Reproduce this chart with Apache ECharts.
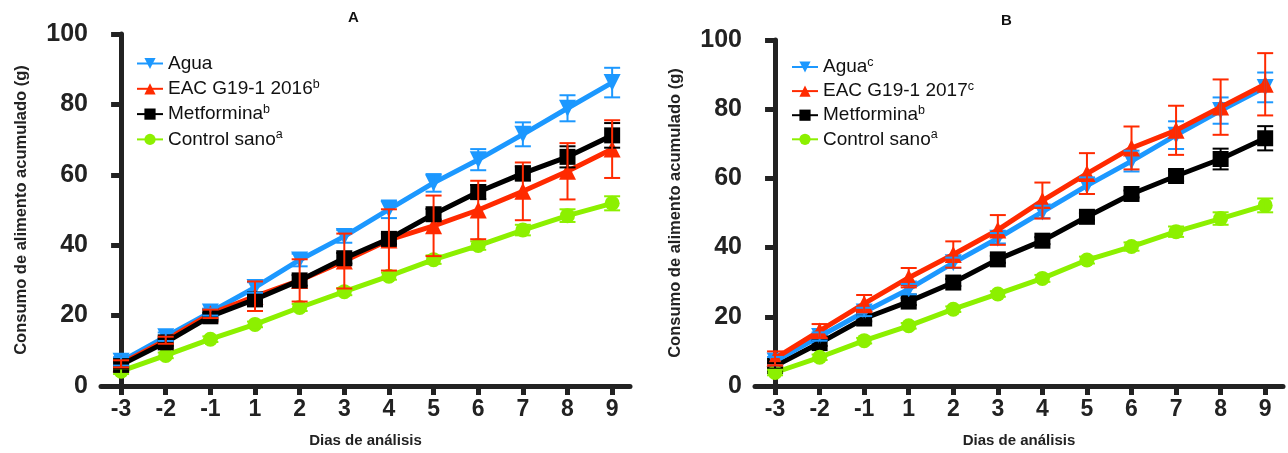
<!DOCTYPE html>
<html><head><meta charset="utf-8">
<script src="https://cdn.jsdelivr.net/npm/echarts@6/dist/echarts.min.js"></script>
<style>html,body{margin:0;padding:0;background:#fff}#c{width:1288px;height:453px}</style>
</head><body><div id="c"></div>
<script>
const days = ['-3','-2','-1','1','2','3','4','5','6','7','8','9'];
const yTicks = [0,20,40,60,80,100];

// Panel A
const aguaA    = [7, 14, 21, 28, 35.8, 42.5, 50.2, 57.7, 64.3, 71.5, 78.9, 86.2];
const aguaAErr = [1.2, 1.2, 1, 1.5, 1.8, 1.8, 2.5, 2.5, 3, 3.4, 3.7, 4.2];
const eacA     = [6.3, 13, 20.5, 25.5, 30, 35.5, 41.5, 45.5, 50, 55.3, 61, 67.3];
const eacAErr  = [1, 1, 1.2, 4.2, 6, 7.8, 8.7, 8.6, 8.3, 8.2, 8, 8.2];
const metA     = [6, 12.4, 19.8, 24.6, 30, 36.3, 41.8, 48.8, 55.1, 60.4, 65.1, 71.2];
const metAErr  = [1, 1, 1, 1.2, 1.5, 1.5, 1.5, 1.5, 2, 2, 3, 3.5];
const ctlA     = [4.2, 8.7, 13.3, 17.5, 22.3, 26.8, 31.2, 35.9, 39.9, 44.3, 48.4, 51.9];
const ctlAErr  = [0.8, 0.8, 0.8, 0.8, 1, 1, 1, 1.2, 1.2, 1.5, 1.8, 2];

// Panel B
const aguaB    = [7.2, 14.3, 21.4, 28, 35.6, 42.7, 50.3, 57.9, 65, 72.5, 79.6, 86.3];
const aguaBErr = [1.2, 1.2, 1.2, 1.5, 1.5, 1.5, 1.8, 2.4, 3, 4, 3.8, 4.3];
const eacB     = [8, 15.9, 23.8, 31.3, 38, 45.1, 53.6, 61.4, 68.8, 73.9, 80.6, 87.2];
const eacBErr  = [2, 2, 2.5, 2.8, 3.8, 4.3, 5.2, 5.9, 6.2, 7.1, 8, 9];
const metB     = [5.8, 12.4, 19.5, 24.4, 29.9, 36.6, 42, 48.9, 55.5, 60.7, 65.6, 71.6];
const metBErr  = [0.8, 0.8, 0.8, 1, 1, 1, 1, 1, 1, 1.5, 3, 3.5];
const ctlB     = [3.9, 8.3, 13.1, 17.4, 22.2, 26.6, 31.1, 36.4, 40.3, 44.6, 48.4, 52.2];
const ctlBErr  = [0.8, 0.8, 0.8, 0.8, 0.8, 0.8, 1, 1, 1.2, 1.5, 1.8, 2];

const BLUE = '#1c98ff', RED = '#ff2a00', BLACK = '#000000', GREEN = '#8cf000';
const AX = '#222222';
const FONT = '"Liberation Sans", Arial, sans-serif';

const legendNames = {
  aA: ['Agua', ''], eA: ['EAC G19-1 2016', 'b'], mA: ['Metformina', 'b'], cA: ['Control sano', 'a'],
  aB: ['Agua', 'c'], eB: ['EAC G19-1 2017', 'c'], mB: ['Metformina', 'b'], cB: ['Control sano', 'a']
};

function pts(arr){ return arr.map((v,i)=>[i,v]); }
function errPts(arr, err){ return arr.map((v,i)=>[i, v-err[i], v+err[i]]); }

function lineSeries(id, gi, data, color, symbol, size, rotate, z){
  return {
    name: id, type: 'line', xAxisIndex: gi, yAxisIndex: gi, data: pts(data),
    symbol: symbol, symbolSize: size, symbolRotate: rotate || 0,
    lineStyle: {color: color, width: 5}, itemStyle: {color: color},
    z: z, animation: false, silent: true
  };
}
function errSeries(gi, data, err, color, z){
  return {
    type: 'custom', xAxisIndex: gi, yAxisIndex: gi, data: errPts(data, err), z: z,
    animation: false, silent: true,
    renderItem: function(params, api){
      const x = api.value(0);
      const p1 = api.coord([x, api.value(2)]);
      const p2 = api.coord([x, api.value(1)]);
      const w = 8;
      const st = {stroke: color, lineWidth: 2};
      return {type: 'group', children: [
        {type: 'line', shape: {x1: p1[0], y1: p1[1], x2: p2[0], y2: p2[1]}, style: st},
        {type: 'line', shape: {x1: p1[0]-w, y1: p1[1], x2: p1[0]+w, y2: p1[1]}, style: st},
        {type: 'line', shape: {x1: p2[0]-w, y1: p2[1], x2: p2[0]+w, y2: p2[1]}, style: st}
      ]};
    }
  };
}

function xAxis(gi){
  return {
    type: 'value', gridIndex: gi, min: -0.45, max: 11.4,
    name: 'Dias de análisis', nameLocation: 'middle', nameGap: 47,
    nameTextStyle: {fontFamily: FONT, fontWeight: 'bold', fontSize: 15, color: '#222'},
    axisLine: {show: true, lineStyle: {color: AX, width: 5}},
    axisTick: {show: true, length: 9, lineStyle: {color: AX, width: 5}, customValues: days.map((d,i)=>i)},
    axisLabel: {customValues: days.map((d,i)=>i), formatter: v => days[Math.round(v)], margin: 12,
      fontFamily: FONT, fontWeight: 'bold', fontSize: 23, color: '#222'},
    splitLine: {show: false}
  };
}
function yAxis(gi){
  return {
    type: 'value', gridIndex: gi, min: 0, max: 100, interval: 20,
    name: 'Consumo de alimento acumulado (g)', nameLocation: 'middle', nameGap: 71,
    nameTextStyle: {fontFamily: FONT, fontWeight: 'bold', fontSize: 16.5, color: '#222'},
    axisLine: {show: true, lineStyle: {color: AX, width: 5}},
    axisTick: {show: true, length: 10, lineStyle: {color: AX, width: 5}},
    axisLabel: {margin: 13, fontFamily: FONT, fontWeight: 'bold', fontSize: 25, color: '#222',
      formatter: v => yTicks.includes(v) ? String(v) : ''},
    splitLine: {show: false}
  };
}
function legend(ids, left, top, gap){
  return {
    orient: 'vertical', left: left, top: top, data: ids, itemWidth: 26, itemHeight: 14, itemGap: gap,
    selectedMode: false,
    formatter: function(name){ const n = legendNames[name]; return '{n|' + n[0] + '}' + (n[1] ? '{s|' + n[1] + '}' : ''); },
    textStyle: {fontFamily: FONT, fontSize: 19, color: '#111',
      rich: {n: {fontFamily: FONT, fontSize: 19, color: '#111', lineHeight: 22},
             s: {fontFamily: FONT, fontSize: 12.5, color: '#111', lineHeight: 12, verticalAlign: 'top'}}}
  };
}

const chart = echarts.init(document.getElementById('c'), null, {renderer: 'canvas'});
chart.setOption({
  backgroundColor: '#fff',
  animation: false,
  title: [
    {text: 'A', left: 343, top: 5, textStyle: {fontFamily: FONT, fontWeight: 'bold', fontSize: 15, color: '#111'}},
    {text: 'B', left: 996, top: 8, textStyle: {fontFamily: FONT, fontWeight: 'bold', fontSize: 15, color: '#111'}}
  ],
  grid: [
    {left: 101, top: 34, width: 529, height: 356, containLabel: false},
    {left: 755, top: 40, width: 528, height: 352, containLabel: false}
  ],
  xAxis: [xAxis(0), xAxis(1)],
  yAxis: [yAxis(0), yAxis(1)],
  legend: [legend(['aA','eA','mA','cA'], 131, 49, 4.8), legend(['aB','eB','mB','cB'], 786, 51, 3.6)],
  series: [
    lineSeries('aA', 0, aguaA, BLUE, 'triangle', 17, 180, 2),
    lineSeries('cA', 0, ctlA, GREEN, 'circle', 15, 0, 2),
    lineSeries('eA', 0, eacA, RED, 'triangle', 17, 0, 3),
    lineSeries('mA', 0, metA, BLACK, 'rect', 16, 0, 4),
    errSeries(0, aguaA, aguaAErr, BLUE, 5),
    errSeries(0, ctlA, ctlAErr, GREEN, 5),
    errSeries(0, metA, metAErr, BLACK, 5),
    errSeries(0, eacA, eacAErr, RED, 6),

    lineSeries('aB', 1, aguaB, BLUE, 'triangle', 17, 180, 3),
    lineSeries('mB', 1, metB, BLACK, 'rect', 16, 0, 2),
    lineSeries('cB', 1, ctlB, GREEN, 'circle', 15, 0, 2),
    lineSeries('eB', 1, eacB, RED, 'triangle', 17, 0, 4),
    errSeries(1, metB, metBErr, BLACK, 5),
    errSeries(1, ctlB, ctlBErr, GREEN, 5),
    errSeries(1, aguaB, aguaBErr, BLUE, 5),
    errSeries(1, eacB, eacBErr, RED, 6)
  ]
});
</script>
</body></html>
